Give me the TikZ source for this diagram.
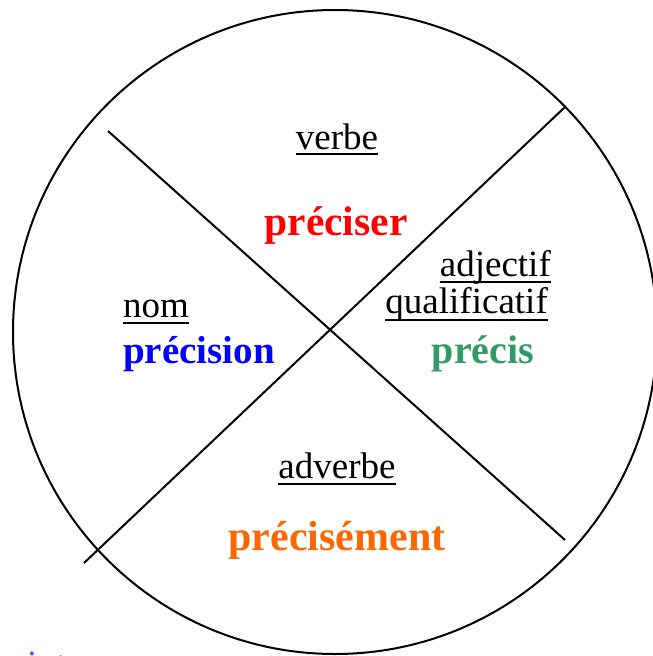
\documentclass[tikz,border=0pt]{standalone}
\usepackage{fontspec}
\setmainfont{Liberation Serif}
\usepackage{xcolor}
\usepackage{tikz}
\usetikzlibrary{positioning,calc}

\definecolor{verbred}{RGB}{255,0,0}
\definecolor{nomblue}{RGB}{0,0,255}
\definecolor{adjgreen}{RGB}{51,153,102}
\definecolor{advorange}{RGB}{255,102,0}
\definecolor{linkblue}{RGB}{51,102,255}

\begin{document}
\begin{tikzpicture}[
    x=1pt, y=-1pt,
    word/.style={font=\fontsize{37}{40}\selectfont, inner sep=0pt},
    kw/.style={font=\fontsize{#1}{#1}\selectfont\bfseries, inner sep=0pt},
    ul/.style={line width=1.8pt},
    cross/.style={line width=2pt}
]
\useasboundingbox (0,0) rectangle (653,656);
\clip (0,0) rectangle (653,656);

% the wheel
\node[circle, draw, line width=2pt, minimum size=644pt, inner sep=0pt] (wheel) at (335,332) {};
\coordinate (nw) at (108,131);
\coordinate (se) at (565,540);
\coordinate (ne) at (565,107);
\coordinate (sw) at (84,563);
\draw[cross] (nw) -- (se);
\draw[cross] (ne) -- (sw);

% top : verbe
\node[word, anchor=base] (verbe) at (337,149) {verbe};
\draw[ul] ([yshift=-5pt]verbe.base west) -- ([yshift=-5pt]verbe.base east);
\node[kw=41.5, text=verbred, anchor=base] (preciser) at (336,235) {préciser};

% right : adjectif
\node[word, anchor=base east] (adj) at (551,276) {adjectif};
\draw[ul] ([yshift=-6pt]adj.base west) -- ([yshift=-6pt]adj.base east);
\node[word, anchor=base east] (qualif) at (548,313) {qualificatif};
\draw[ul] ([yshift=-7pt]qualif.base west) -- ([yshift=-7pt]qualif.base east);
\node[kw=40, text=adjgreen, anchor=base] (precis) at (483,363) {précis};

% left : nom
\node[word, anchor=base west] (nom) at (123,317) {nom};
\draw[ul] ([yshift=-6pt]nom.base west) -- ([yshift=-6pt]nom.base east);
\node[kw=39, text=nomblue, anchor=base west] (precision) at (123,363) {précision};

% bottom : adverbe
\node[word, anchor=base] (adverbe) at (337,478) {adverbe};
\draw[ul] ([yshift=-6pt]adverbe.base west) -- ([yshift=-6pt]adverbe.base east);
\node[kw=42, text=advorange, anchor=base] (precisement) at (337,550) {précisément};

% cut text at the bottom edge
\node[word, text=linkblue, anchor=base west] (point) at (-10,676) {point};
\end{tikzpicture}
\end{document}
